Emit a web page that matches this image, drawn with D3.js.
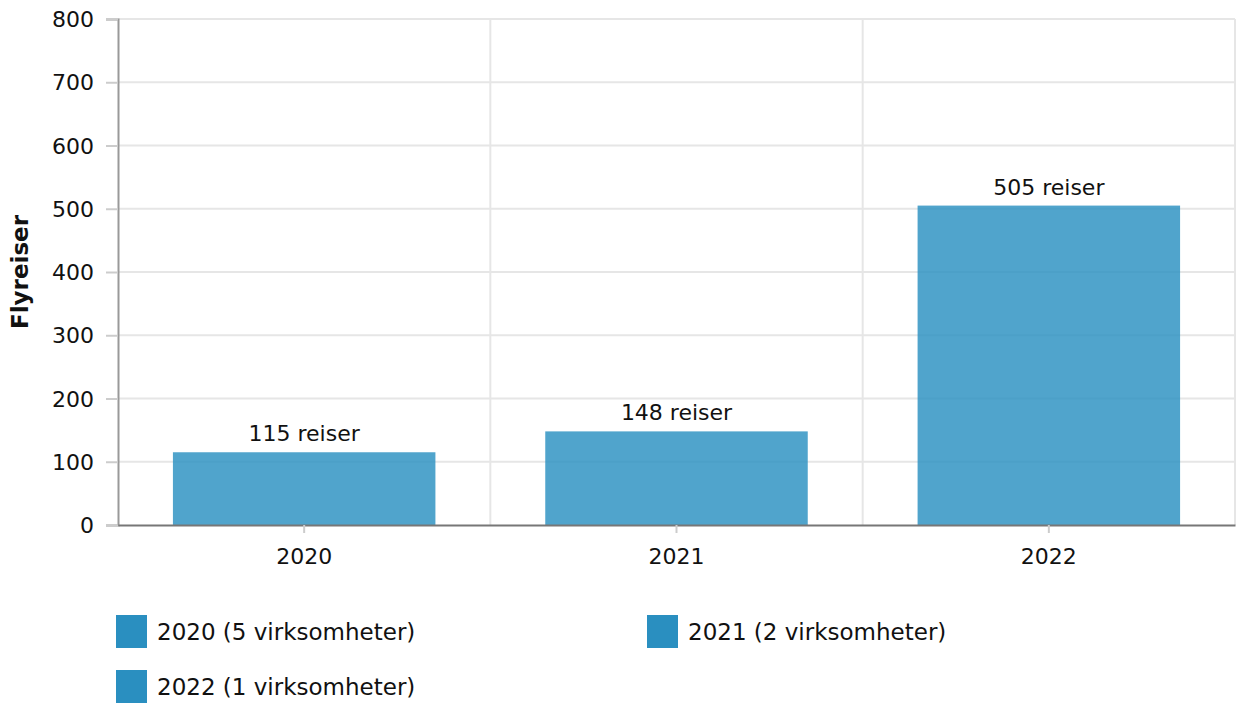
<!DOCTYPE html>
<html>
<head>
<meta charset="utf-8">
<script src="https://cdn.jsdelivr.net/npm/d3@7"></script>
<style>
  body { margin: 0; background: #fff; }
  text { font-family: "DejaVu Sans", Verdana, sans-serif; fill: #111; }
</style>
</head>
<body>
<div id="chart"></div>
<script>
// Data
var years = ['2020', '2021', '2022'];
var trips = [115, 148, 505];
var legendLabels = ['2020 (5 virksomheter)', '2021 (2 virksomheter)', '2022 (1 virksomheter)'];
var yTicks = [0, 100, 200, 300, 400, 500, 600, 700, 800];

var width = 1237;
var height = 704;
var margin = {top: 19, right: 2, bottom: 179, left: 118};
var plotW = width - margin.left - margin.right;
var plotH = height - margin.top - margin.bottom;

var svg = d3.select('#chart').append('svg')
  .attr('width', width)
  .attr('height', height);

var g = svg.append('g')
  .attr('transform', 'translate(' + margin.left + ',' + margin.top + ')');

var x = d3.scaleBand()
  .domain(years)
  .range([0, plotW])
  .paddingInner(0.295)
  .paddingOuter(0.1475);

var y = d3.scaleLinear()
  .domain([0, 800])
  .range([plotH, 0]);

// horizontal grid
g.selectAll('.hgrid')
  .data(yTicks.slice(1))
  .join('line')
  .attr('class', 'hgrid')
  .attr('x1', 0)
  .attr('x2', plotW)
  .attr('y1', d => y(d))
  .attr('y2', d => y(d))
  .attr('stroke', '#e6e6e6')
  .attr('stroke-width', 2);

// vertical grid between categories
var vlines = d3.range(1, years.length + 1).map(i => i * plotW / years.length);
g.selectAll('.vgrid')
  .data(vlines)
  .join('line')
  .attr('class', 'vgrid')
  .attr('x1', d => d)
  .attr('x2', d => d)
  .attr('y1', 0)
  .attr('y2', plotH)
  .attr('stroke', '#e6e6e6')
  .attr('stroke-width', 2);

// bars
g.selectAll('.bar')
  .data(trips)
  .join('rect')
  .attr('class', 'bar')
  .attr('x', (d, i) => x(years[i]))
  .attr('y', d => y(d))
  .attr('width', x.bandwidth())
  .attr('height', d => plotH - y(d))
  .attr('fill', '#2a90c1')
  .attr('opacity', 0.82);

// value labels
g.selectAll('.val')
  .data(trips)
  .join('text')
  .attr('class', 'val')
  .attr('x', (d, i) => x(years[i]) + x.bandwidth() / 2)
  .attr('y', d => y(d) - 11)
  .attr('text-anchor', 'middle')
  .style('font-size', '22px')
  .text(d => d + ' reiser');

// y axis
var yAxis = g.append('g')
  .call(d3.axisLeft(y).tickValues(yTicks).tickSize(12).tickPadding(12));
yAxis.select('.domain').attr('stroke', '#999').attr('stroke-width', 2);
yAxis.selectAll('.tick line').attr('stroke', '#ccc').attr('stroke-width', 2);
yAxis.selectAll('.tick text').style('font-size', '22px').attr('dy', '0.35em');

// x axis
var xAxis = g.append('g')
  .attr('transform', 'translate(0,' + plotH + ')')
  .call(d3.axisBottom(x).tickSize(8).tickPadding(15).tickSizeOuter(0));
xAxis.select('.domain').attr('stroke', '#777').attr('stroke-width', 2);
xAxis.selectAll('.tick line').attr('stroke', '#ccc').attr('stroke-width', 2);
xAxis.selectAll('.tick text').style('font-size', '22px');

// y axis title
svg.append('text')
  .attr('transform', 'translate(28,' + (margin.top + plotH / 2) + ') rotate(-90)')
  .attr('text-anchor', 'middle')
  .style('font-size', '23px')
  .style('font-weight', 'bold')
  .text('Flyreiser');

// legend
var legendPos = [[116, 615], [647, 615], [116, 670]];
var legend = svg.selectAll('.legend')
  .data(legendLabels)
  .join('g')
  .attr('class', 'legend')
  .attr('transform', (d, i) => 'translate(' + legendPos[i][0] + ',' + legendPos[i][1] + ')');

legend.append('rect')
  .attr('width', 31)
  .attr('height', 33)
  .attr('fill', '#2a8fc0');

legend.append('text')
  .attr('x', 41)
  .attr('y', 17)
  .attr('dy', '0.35em')
  .style('font-size', '23px')
  .text(d => d);
</script>
</body>
</html>
